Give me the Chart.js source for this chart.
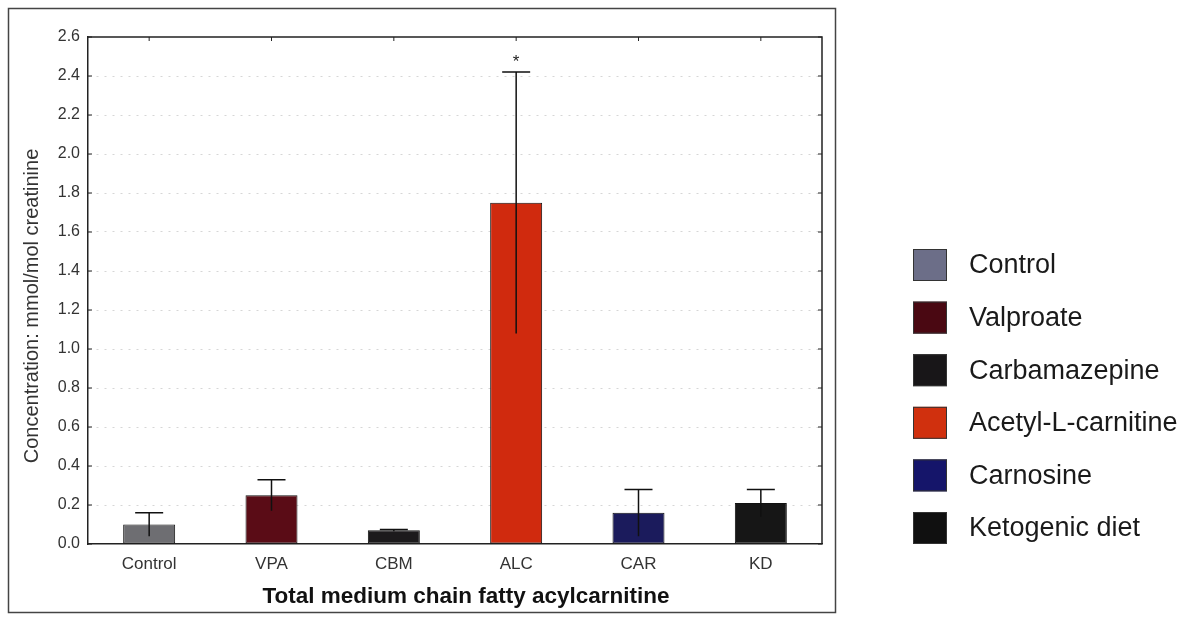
<!DOCTYPE html>
<html>
<head>
<meta charset="utf-8">
<script src="https://cdn.jsdelivr.net/npm/chart.js@4.4.1/dist/chart.umd.min.js"></script>
<style>
  body { margin: 0; background: #fff; }
  #wrap { width: 1188px; height: 619px; }
</style>
</head>
<body>
<div id="wrap"><canvas id="chart"></canvas></div>
<script>
// --- data ---
const categories = ['Control', 'VPA', 'CBM', 'ALC', 'CAR', 'KD'];
const groups = ['Control', 'Valproate', 'Carbamazepine', 'Acetyl-L-carnitine', 'Carnosine', 'Ketogenic diet'];
const means = [0.10, 0.25, 0.07, 1.75, 0.16, 0.21];
const errLow = [0.04, 0.17, 0.065, 1.08, 0.04, 0.14];
const errHigh = [0.16, 0.33, 0.075, 2.42, 0.28, 0.28];
const marks = ['', '', '', '*', '', ''];
const yTitle = 'Concentration: mmol/mol creatinine';
const xTitle = 'Total medium chain fatty acylcarnitine';

const barColors = ['#6e6e72', '#5a0c16', '#1c1a1c', '#d02a0e', '#1b1b5c', '#161616'];
const legendColors = ['#6c6e88', '#4a0812', '#181618', '#d0300e', '#15156a', '#101010'];

const FONT = 'Arial, "Liberation Sans", sans-serif';

// frame, mirrored axes, error bars, titles and the legend
const decor = {
  id: 'decor',
  beforeDraw(chart) {
    const ctx = chart.ctx;
    ctx.save();
    ctx.strokeStyle = '#444';
    ctx.lineWidth = 1.5;
    ctx.strokeRect(8.5, 8.5, 827, 604);
    ctx.restore();
  },
  afterDatasetsDraw(chart) {
    const ctx = chart.ctx;
    const y = chart.scales.y;
    const meta = chart.getDatasetMeta(0);
    ctx.save();
    ctx.strokeStyle = '#111';
    ctx.lineWidth = 1.5;
    meta.data.forEach((bar, i) => {
      const x = bar.x;
      const hi = y.getPixelForValue(errHigh[i]);
      const lo = y.getPixelForValue(errLow[i]);
      ctx.beginPath();
      ctx.moveTo(x, lo);
      ctx.lineTo(x, hi);
      ctx.moveTo(x - 14, hi);
      ctx.lineTo(x + 14, hi);
      ctx.stroke();
      if (marks[i]) {
        ctx.fillStyle = '#222';
        ctx.font = '17px ' + FONT;
        ctx.textAlign = 'center';
        ctx.textBaseline = 'bottom';
        ctx.fillText(marks[i], x, hi - 1);
      }
    });
    ctx.restore();
  },
  afterDraw(chart) {
    const ctx = chart.ctx;
    const a = chart.chartArea;
    const y = chart.scales.y;
    const meta = chart.getDatasetMeta(0);
    ctx.save();
    ctx.strokeStyle = '#222';
    ctx.lineWidth = 1.5;
    ctx.beginPath();
    ctx.moveTo(a.left, a.top);
    ctx.lineTo(a.right, a.top);
    ctx.lineTo(a.right, a.bottom);
    ctx.stroke();
    // inward ticks
    ctx.lineWidth = 1;
    ctx.beginPath();
    y.ticks.forEach(t => {
      const py = y.getPixelForValue(t.value);
      ctx.moveTo(a.left, py); ctx.lineTo(a.left + 4, py);
      ctx.moveTo(a.right, py); ctx.lineTo(a.right - 4, py);
    });
    meta.data.forEach(bar => {
      ctx.moveTo(bar.x, a.top); ctx.lineTo(bar.x, a.top + 4);
    });
    ctx.stroke();

    // axis titles
    ctx.textAlign = 'center';
    ctx.textBaseline = 'middle';
    ctx.fillStyle = '#111';
    ctx.font = 'bold 22.5px ' + FONT;
    ctx.fillText(xTitle, 466, 597);
    ctx.save();
    ctx.translate(32, 306);
    ctx.rotate(-Math.PI / 2);
    ctx.fillStyle = '#333';
    ctx.font = '20px ' + FONT;
    ctx.fillText(yTitle, 0, 0);
    ctx.restore();

    // legend
    ctx.font = '27px ' + FONT;
    ctx.textAlign = 'left';
    ctx.textBaseline = 'middle';
    groups.forEach((g, i) => {
      const cy = 265 + i * 52.6;
      ctx.fillStyle = legendColors[i];
      ctx.fillRect(913, cy - 16, 34, 32);
      ctx.strokeStyle = '#333';
      ctx.lineWidth = 1;
      ctx.strokeRect(913.5, cy - 15.5, 33, 31);
      ctx.fillStyle = '#1a1a1a';
      ctx.fillText(g, 969, cy + 1);
    });
    ctx.restore();
  }
};

const ctx = document.getElementById('chart').getContext('2d');
new Chart(ctx, {
  type: 'bar',
  data: {
    labels: categories,
    datasets: [{
      data: means,
      backgroundColor: barColors,
      borderColor: '#111',
      borderWidth: 1,
      borderSkipped: false,
      barPercentage: 0.85,
      categoryPercentage: 0.5
    }]
  },
  options: {
    responsive: true,
    maintainAspectRatio: false,
    animation: false,
    layout: { padding: { left: 0, right: 366, top: 37, bottom: 0 } },
    plugins: {
      legend: { display: false },
      tooltip: { enabled: false }
    },
    scales: {
      y: {
        min: 0,
        max: 2.6,
        ticks: {
          stepSize: 0.2,
          padding: 8,
          color: '#333',
          font: { family: FONT, size: 16 },
          callback: v => v.toFixed(1)
        },
        grid: {
          drawTicks: false,
          color: c => (c.tick.value > 0 && c.tick.value < 2.6) ? 'rgba(0,0,0,0.16)' : 'rgba(0,0,0,0)',
          lineWidth: 1
        },
        border: { display: true, color: '#222', width: 1.5, dash: [2, 6] },
        afterFit(scale) { scale.width = 88; }
      },
      x: {
        ticks: {
          padding: 10,
          color: '#333',
          font: { family: FONT, size: 17 }
        },
        grid: { display: false, drawTicks: false },
        border: { display: true, color: '#222', width: 1.5 },
        afterFit(scale) { scale.height = 75; }
      }
    }
  },
  plugins: [decor]
});
</script>
</body>
</html>
